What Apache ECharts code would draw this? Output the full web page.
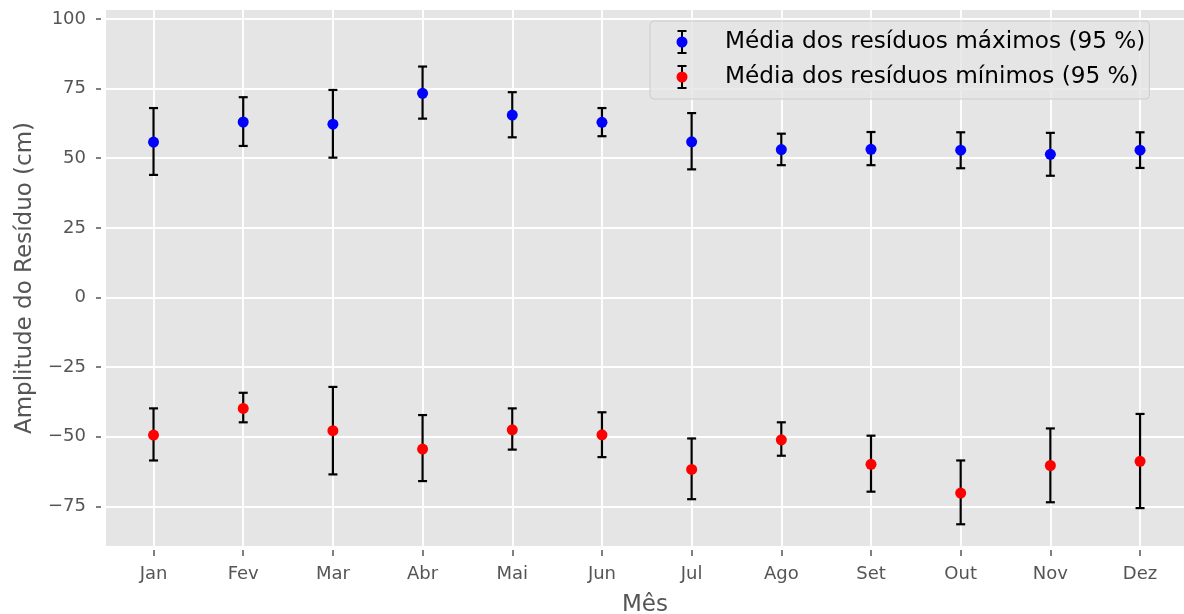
<!DOCTYPE html>
<html>
<head>
<meta charset="utf-8">
<script src="https://cdn.jsdelivr.net/npm/echarts@6/dist/echarts.min.js"></script>
<style>html,body{margin:0;padding:0;background:#fff;}#c{width:1184px;height:614px;}</style>
</head>
<body>
<div id="c"></div>
<script>
const months = ['Jan','Fev','Mar','Abr','Mai','Jun','Jul','Ago','Set','Out','Nov','Dez'];
const yTicks = [-75, -50, -25, 0, 25, 50, 75, 100];

const maxMean = [55.8, 63.0, 62.2, 73.3, 65.5, 62.9, 55.9, 53.1, 53.2, 52.9, 51.4, 52.9];
const maxLow  = [44.0, 54.4, 50.2, 64.2, 57.5, 57.9, 46.0, 47.5, 47.5, 46.4, 43.7, 46.5];
const maxHigh = [68.0, 71.9, 74.5, 82.9, 73.7, 68.0, 66.2, 58.8, 59.4, 59.3, 59.1, 59.3];

const minMean = [-49.4, -39.8, -47.8, -54.4, -47.5, -49.3, -61.7, -51.1, -59.9, -70.2, -60.3, -58.8];
const minLow  = [-58.5, -44.8, -63.5, -65.9, -54.6, -57.3, -72.4, -56.8, -69.7, -81.4, -73.5, -75.6];
const minHigh = [-39.8, -34.2, -32.1, -42.2, -39.8, -41.2, -50.6, -44.8, -49.6, -58.5, -47.0, -41.8];

const nameMax = 'Média dos resíduos máximos (95 %)';
const nameMin = 'Média dos resíduos mínimos (95 %)';

const FONT = 'DejaVu Sans';
const monthIdx = months.map((m, i) => i);

function icon(color) {
  const svg = '<svg xmlns="http://www.w3.org/2000/svg" width="24" height="24">' +
    '<path d="M12 1V23M7.5 1H16.5M7.5 23H16.5" stroke="#000" stroke-width="2" fill="none"/>' +
    '<circle cx="12" cy="12" r="5.5" fill="' + color + '"/></svg>';
  return 'image://data:image/svg+xml;charset=utf-8,' + encodeURIComponent(svg);
}

function errData(lo, hi) { return monthIdx.map(i => [i, lo[i], hi[i]]); }

function renderErr(params, api) {
  const x = api.value(0), lo = api.value(1), hi = api.value(2);
  const a = api.coord([x, hi]), b = api.coord([x, lo]);
  const hw = 4.5;
  const st = { stroke: '#000', lineWidth: 2.2 };
  return { type: 'group', children: [
    { type: 'line', shape: { x1: a[0], y1: a[1], x2: b[0], y2: b[1] }, style: st },
    { type: 'line', shape: { x1: a[0] - hw, y1: a[1], x2: a[0] + hw, y2: a[1] }, style: st },
    { type: 'line', shape: { x1: b[0] - hw, y1: b[1], x2: b[0] + hw, y2: b[1] }, style: st }
  ]};
}

const chart = echarts.init(document.getElementById('c'), null, { renderer: 'canvas' });
chart.setOption({
  animation: false,
  backgroundColor: '#ffffff',
  textStyle: { fontFamily: FONT },
  grid: { left: 106, right: 0, top: 10, bottom: 68, show: true, backgroundColor: '#e5e5e5', borderWidth: 0, outerBoundsMode: 'none', containLabel: false },
  xAxis: {
    type: 'value', min: -0.53, max: 11.49, offset: 4,
    name: 'Mês', nameLocation: 'middle', nameGap: 44,
    nameTextStyle: { fontFamily: FONT, fontSize: 23, color: '#555555' },
    axisLine: { show: false, onZero: false },
    axisTick: { show: true, customValues: monthIdx, length: 6, lineStyle: { color: '#555555', width: 1.5 } },
    axisLabel: { customValues: monthIdx, formatter: v => months[Math.round(v)], fontFamily: FONT, fontSize: 18, color: '#555555', margin: 15 },
    splitLine: { show: true, lineStyle: { color: '#ffffff', width: 1.8 } }
  },
  yAxis: {
    type: 'value', min: -89.2, max: 103.2, offset: 5,
    name: 'Amplitude do Resíduo (cm)', nameLocation: 'middle', nameGap: 64,
    nameTextStyle: { fontFamily: FONT, fontSize: 23, color: '#555555' },
    axisLine: { show: false, onZero: false },
    axisTick: { show: true, customValues: yTicks, length: 5, lineStyle: { color: '#555555', width: 1.5 } },
    axisLabel: { customValues: yTicks, formatter: v => (v < 0 ? '\u2212' + Math.abs(v) : String(v)), fontFamily: FONT, fontSize: 18, color: '#555555', margin: 15 },
    splitLine: { show: true, lineStyle: { color: '#ffffff', width: 1.8 } }
  },
  legend: {
    orient: 'vertical', left: 650, top: 21,
    padding: [9, 4, 10, 20],
    itemWidth: 24, itemHeight: 24, itemGap: 11,
    backgroundColor: 'rgba(229,229,229,0.8)', borderColor: '#cccccc', borderWidth: 1, borderRadius: 4,
    textStyle: { fontFamily: FONT, fontSize: 23.2, color: '#000000', padding: [0, 0, 0, 26] },
    data: [ { name: nameMax, icon: icon('#0000ff') }, { name: nameMin, icon: icon('#ff0000') } ]
  },
  series: [
    { type: 'custom', name: 'errMax', renderItem: renderErr, data: errData(maxLow, maxHigh), encode: { x: 0, y: [1, 2] }, z: 2, silent: true },
    { type: 'custom', name: 'errMin', renderItem: renderErr, data: errData(minLow, minHigh), encode: { x: 0, y: [1, 2] }, z: 2, silent: true },
    { type: 'scatter', name: nameMax, data: monthIdx.map(i => [i, maxMean[i]]), symbol: 'circle', symbolSize: 11, itemStyle: { color: '#0000ff', opacity: 1 }, z: 3 },
    { type: 'scatter', name: nameMin, data: monthIdx.map(i => [i, minMean[i]]), symbol: 'circle', symbolSize: 11, itemStyle: { color: '#ff0000', opacity: 1 }, z: 3 }
  ]
});
</script>
</body>
</html>
